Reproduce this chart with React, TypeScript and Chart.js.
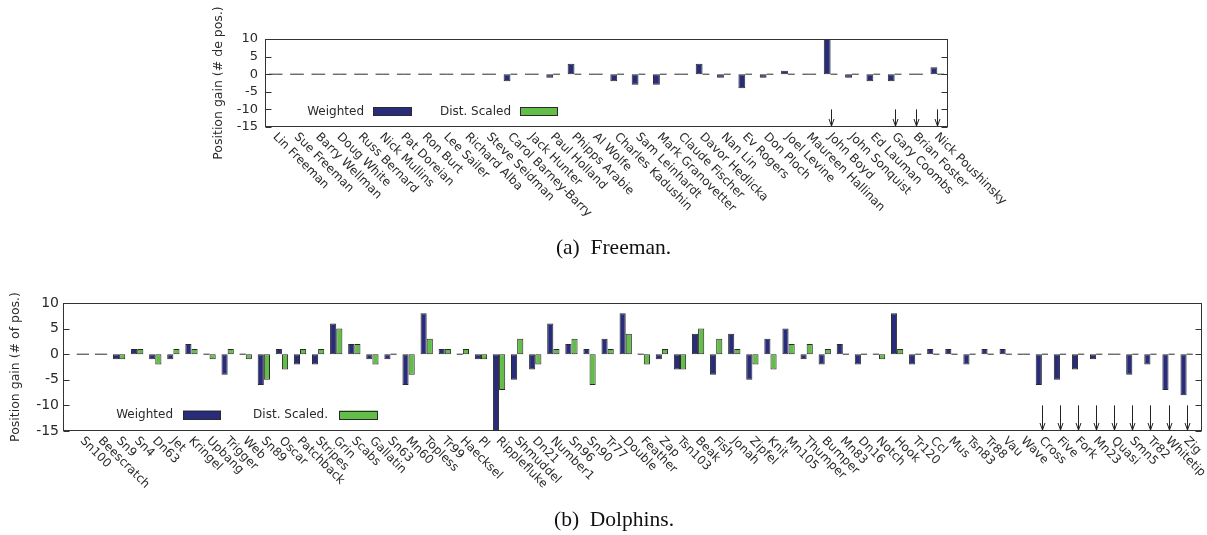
import React, { useEffect, useRef } from "react";
import { Chart, registerables } from "chart.js";

Chart.register(...registerables);

// ---------------- DATA ----------------
const freemanNames = [
  "Lin Freeman", "Sue Freeman", "Barry Wellman", "Doug White", "Russ Bernard", "Nick Mullins",
  "Pat Doreian", "Ron Burt", "Lee Sailer", "Richard Alba", "Steve Seidman", "Carol Barney-Barry",
  "Jack Hunter", "Paul Holland", "Phipps Arabie", "Al Wolfe", "Charles Kadushin", "Sam Leinhardt",
  "Mark Granovetter", "Claude Fischer", "Davor Hedlicka", "Nan Lin", "Ev Rogers", "Don Ploch",
  "Joel Levine", "Maureen Hallinan", "John Boyd", "John Sonquist", "Ed Lauman", "Gary Coombs",
  "Brian Foster", "Nick Poushinsky",
];
const freemanWeighted = [
  0, 0, 0, 0, 0, 0, 0, 0, 0, 0, 0, -2, 0, -1, 3, 0, -2, -3, -3, 0, 3, -1, -4, -1, 1, 0, 10, -1, -2, -2, 0, 2,
];
const freemanDist = [
  0, 0, 0, 0, 0, 0, 0, 0, 0, 0, 0, 0, 0, 0, 0, 0, 0, 0, 0, 0, 0, 0, 0, 0, 0, 0, 0, 0, 0, 0, 0, 0,
];
const freemanArrows = ["John Boyd", "Gary Coombs", "Brian Foster", "Nick Poushinsky"];

const dolphinNames = [
  "Sn100", "Beescratch", "Sn9", "Sn4", "Dn63", "Jet", "Kringel", "Upbang", "Trigger", "Web",
  "Sn89", "Oscar", "Patchback", "Stripes", "Grin", "Scabs", "Gallatin", "Sn63", "Mn60", "Topless",
  "Tr99", "Haecksel", "Pl", "Ripplefluke", "Shmuddel", "Dn21", "Number1", "Sn96", "Sn90", "Tr77",
  "Double", "Feather", "Zap", "Tsn103", "Beak", "Fish", "Jonah", "Zipfel", "Knit", "Mn105",
  "Thumper", "Bumper", "Mn83", "Dn16", "Notch", "Hook", "Tr120", "Ccl", "Mus", "Tsn83",
  "Tr88", "Vau", "Wave", "Cross", "Five", "Fork", "Mn23", "Quasi", "Smn5", "Tr82",
  "Whitetip", "Zig",
];
const dolphinWeighted = [
  0, 0, -1, 1, -1, -1, 2, 0, -4, 0,
  -6, 1, -2, -2, 6, 2, -1, -1, -6, 8,
  1, 0, -1, -15, -5, -3, 6, 2, 1, 3,
  8, 0, -1, -3, 4, -4, 4, -5, 3, 5,
  -1, -2, 2, -2, 0, 8, -2, 1, 1, -2,
  1, 1, 0, -6, -5, -3, -1, 0, -4, -2,
  -7, -8,
];
const dolphinDist = [
  0, 0, -1, 1, -2, 1, 1, -1, 1, -1,
  -5, -3, 1, 1, 5, 2, -2, 0, -4, 3,
  1, 1, -1, -7, 3, -2, 1, 3, -6, 1,
  4, -2, 1, -3, 5, 3, 1, -2, -3, 2,
  2, 1, 0, 0, -1, 1, 0, 0, 0, 0,
  0, 0, 0, 0, 0, 0, 0, 0, 0, 0,
  0, 0,
];
const dolphinArrows = ["Cross", "Five", "Fork", "Mn23", "Quasi", "Smn5", "Tr82", "Whitetip", "Zig"];

const yTickValues = [-15, -10, -5, 0, 5, 10];

// ---------------- STYLE ----------------
const NAVY = "#282c7a";
const GREEN = "#62be48";
const EDGE = "#2a2a2a";
const TEXT = "#2a2a2a";
const FONT = "'DejaVu Sans', sans-serif";
const W = 1207;

type LegendItem = { label: string; textRight: number; boxLeft: number; boxRight: number; color: string };

type PanelProps = {
  top: number;
  height: number;
  names: string[];
  weighted: number[];
  dist: number[];
  arrows: string[];
  xMin: number;
  xMax: number;
  area: { left: number; right: number; top: number; bottom: number };
  yTitle: string;
  titleX: number;
  tickFont: number;
  tickPad: number;
  catPct: number;
  legend: LegendItem[];
  legendY: number;
  labelDx: number;
  labelDy: number;
};

function Panel(p: PanelProps) {
  const ref = useRef<HTMLCanvasElement | null>(null);

  useEffect(() => {
    const canvas = ref.current;
    if (!canvas) return;
    const titleLine = 12.5 * 1.2;
    const yAxisLeft = p.titleX - titleLine / 2;
    const yW = p.area.left - yAxisLeft;

    const decor = {
      id: "decor",
      afterDraw(chart: any) {
        const ctx = chart.ctx as CanvasRenderingContext2D;
        const xs = chart.scales.x;
        const ys = chart.scales.y;
        const ca = chart.chartArea;
        const y0 = ys.getPixelForValue(0);

        ctx.save();
        // zero-height bars drawn as flat outlines
        ctx.strokeStyle = EDGE;
        ctx.lineWidth = 1;
        chart.data.datasets.forEach((ds: any, d: number) => {
          const meta = chart.getDatasetMeta(d);
          meta.data.forEach((el: any, i: number) => {
            if (ds.data[i].y === 0) {
              const { x, width } = el.getProps(["x", "width"], true);
              ctx.beginPath();
              ctx.moveTo(x - width / 2, y0);
              ctx.lineTo(x + width / 2, y0);
              ctx.stroke();
            }
          });
        });

        // frame
        const L = Math.round(ca.left) + 0.5;
        const R = Math.round(ca.right) - 0.5;
        const T = Math.round(ca.top) + 0.5;
        const B = Math.round(ca.bottom) - 0.5;
        ctx.strokeStyle = "#333";
        ctx.lineWidth = 1;
        ctx.strokeRect(L, T, R - L, B - T);

        // inward ticks on both sides
        yTickValues.forEach((v) => {
          const y = Math.round(ys.getPixelForValue(v)) + 0.5;
          ctx.beginPath();
          ctx.moveTo(L, y);
          ctx.lineTo(L + 6, y);
          ctx.moveTo(R, y);
          ctx.lineTo(R - 6, y);
          ctx.stroke();
        });

        // rotated category labels
        ctx.fillStyle = TEXT;
        ctx.font = `12px ${FONT}`;
        ctx.textAlign = "left";
        ctx.textBaseline = "middle";
        p.names.forEach((name, i) => {
          const x = xs.getPixelForValue(i);
          ctx.save();
          ctx.translate(x + p.labelDx, ca.bottom + p.labelDy);
          ctx.rotate(Math.PI / 4);
          ctx.fillText(name, 0, 0);
          ctx.restore();
        });

        // arrows
        ctx.strokeStyle = "#222";
        p.arrows.forEach((name) => {
          const i = p.names.indexOf(name);
          if (i < 0) return;
          const x = Math.round(xs.getPixelForValue(i)) + 0.5;
          const y1 = ys.getPixelForValue(-10);
          const y2 = ys.getPixelForValue(-15) - 1;
          ctx.beginPath();
          ctx.moveTo(x, y1);
          ctx.lineTo(x, y2);
          ctx.moveTo(x - 2.5, y2 - 7);
          ctx.lineTo(x, y2);
          ctx.lineTo(x + 2.5, y2 - 7);
          ctx.stroke();
        });

        // legend
        ctx.font = `12px ${FONT}`;
        ctx.textAlign = "right";
        ctx.textBaseline = "middle";
        p.legend.forEach((it) => {
          ctx.fillStyle = TEXT;
          ctx.fillText(it.label, it.textRight, p.legendY);
          ctx.fillStyle = it.color;
          ctx.fillRect(it.boxLeft, p.legendY - 4.5, it.boxRight - it.boxLeft, 9);
          ctx.strokeStyle = EDGE;
          ctx.strokeRect(it.boxLeft + 0.5, Math.round(p.legendY - 4.5) + 0.5, it.boxRight - it.boxLeft - 1, 8);
        });
        ctx.restore();
      },
    };

    const chart = new Chart(canvas, {
      type: "bar",
      data: {
        datasets: [
          {
            label: p.legend[0].label,
            data: p.weighted.map((v, i) => ({ x: i, y: v })),
            backgroundColor: NAVY,
            borderColor: EDGE,
            borderWidth: 1,
            borderSkipped: false,
          },
          {
            label: p.legend[1].label,
            data: p.dist.map((v, i) => ({ x: i, y: v })),
            backgroundColor: GREEN,
            borderColor: EDGE,
            borderWidth: 1,
            borderSkipped: false,
          },
        ],
      } as any,
      options: {
        responsive: false,
        animation: false,
        events: [],
        layout: {
          padding: { left: yAxisLeft, right: W - p.area.right, top: p.area.top, bottom: 0 },
        },
        plugins: { legend: { display: false }, tooltip: { enabled: false } },
        datasets: { bar: { categoryPercentage: p.catPct, barPercentage: 1 } },
        scales: {
          x: {
            type: "linear",
            min: p.xMin,
            max: p.xMax,
            offset: false,
            ticks: { display: false },
            grid: { display: false, drawTicks: false },
            border: { display: false },
            afterFit: (s: any) => {
              s.height = p.height - p.area.bottom;
            },
          },
          y: {
            type: "linear",
            min: -15,
            max: 10,
            ticks: {
              stepSize: 5,
              autoSkip: false,
              font: { family: FONT, size: p.tickFont },
              color: TEXT,
              padding: p.tickPad,
            },
            grid: { display: false, drawTicks: false },
            border: { display: false },
            title: {
              display: true,
              text: p.yTitle,
              font: { family: FONT, size: 12.5 },
              color: TEXT,
              padding: 0,
            },
            afterFit: (s: any) => {
              s.width = yW;
            },
          },
        },
      } as any,
      plugins: [decor],
    });
    return () => chart.destroy();
  }, []);

  return (
    <canvas
      ref={ref}
      width={W}
      height={p.height}
      style={{ position: "absolute", left: 0, top: p.top, width: W, height: p.height }}
    />
  );
}

const captionStyle: React.CSSProperties = {
  position: "absolute",
  width: 600,
  textAlign: "center",
  fontFamily: "'Liberation Serif', 'Times New Roman', serif",
  fontSize: 21.5,
  lineHeight: "21.5px",
  color: "#111",
  whiteSpace: "pre",
};

export default function App() {
  return (
    <div style={{ position: "absolute", left: 0, top: 0, width: W, height: 535, background: "#fff" }}>
      <Panel
        top={0}
        height={240}
        names={freemanNames}
        weighted={freemanWeighted}
        dist={freemanDist}
        arrows={freemanArrows}
        xMin={-0.5}
        xMax={31.5}
        area={{ left: 265, right: 948, top: 39, bottom: 127 }}
        yTitle="Position gain (# de pos.)"
        titleX={219}
        tickFont={13}
        tickPad={7}
        catPct={0.64}
        legend={[
          { label: "Weighted", textRight: 364, boxLeft: 373, boxRight: 412, color: NAVY },
          { label: "Dist. Scaled", textRight: 511, boxLeft: 520, boxRight: 558, color: GREEN },
        ]}
        legendY={111.5}
        labelDx={-1}
        labelDy={8}
      />
      <Panel
        top={270}
        height={245}
        names={dolphinNames}
        weighted={dolphinWeighted}
        dist={dolphinDist}
        arrows={dolphinArrows}
        xMin={-1.1}
        xMax={61.85}
        area={{ left: 63, right: 1202, top: 33, bottom: 161 }}
        yTitle="Position gain (# of pos.)"
        titleX={16}
        tickFont={14}
        tickPad={4}
        catPct={0.68}
        legend={[
          { label: "Weighted", textRight: 173, boxLeft: 183, boxRight: 221, color: NAVY },
          { label: "Dist. Scaled.", textRight: 328, boxLeft: 339, boxRight: 378, color: GREEN },
        ]}
        legendY={145}
        labelDx={-1}
        labelDy={8}
      />
      <div style={{ ...captionStyle, left: 313.5, top: 237 }}>{"(a)\u2002Freeman."}</div>
      <div style={{ ...captionStyle, left: 314, top: 509 }}>{"(b)\u2002Dolphins."}</div>
    </div>
  );
}
